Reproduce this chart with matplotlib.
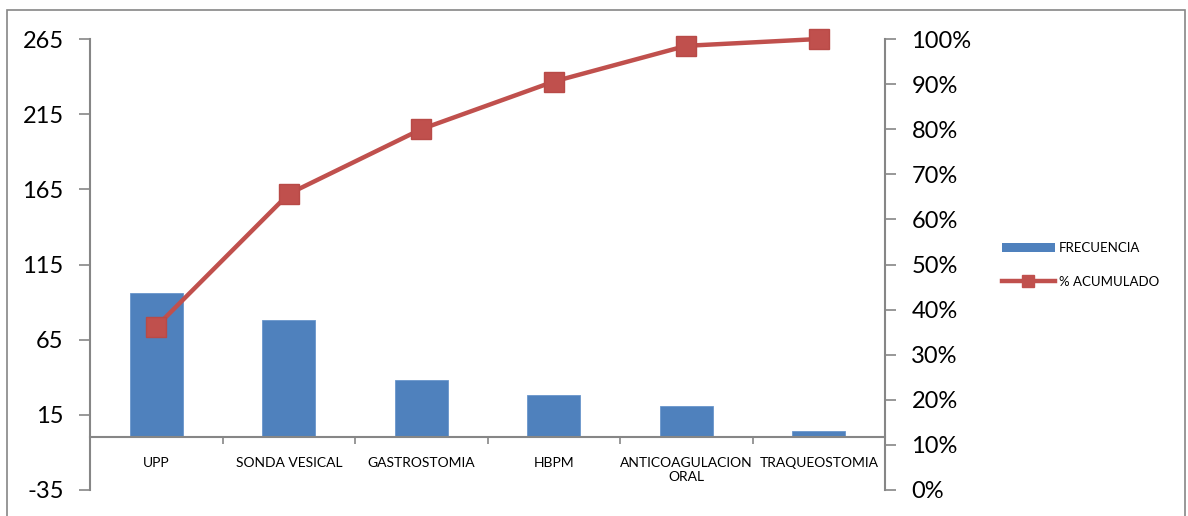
import numpy as np
import matplotlib
matplotlib.use("Agg")
import matplotlib.pyplot as plt
from matplotlib.patches import Rectangle, Patch
from matplotlib.lines import Line2D
from matplotlib.ticker import PercentFormatter

# Pareto de complicaciones
categorias = ["UPP", "SONDA VESICAL", "GASTROSTOMIA", "HBPM",
              "ANTICOAGULACION\nORAL", "TRAQUEOSTOMIA"]
frecuencia = [96, 78, 38, 28, 21, 4]
izq_ticks = [-35, 15, 65, 115, 165, 215, 265]
der_ticks = [0, 0.1, 0.2, 0.3, 0.4, 0.5, 0.6, 0.7, 0.8, 0.9, 1.0]

acumulado = np.cumsum(frecuencia) / np.sum(frecuencia)

azul = "#4F81BD"
rojo = "#C0504D"
gris = "#868686"

plt.rcParams['font.family'] = ['Lato', 'DejaVu Sans']
plt.rcParams['axes.unicode_minus'] = False

fig = plt.figure(figsize=(11.88, 5.16), dpi=100)
ax = fig.add_axes([90 / 1188, 1 - 490 / 516, 795 / 1188, 451 / 516])

x = np.arange(len(categorias))
ax.bar(x, frecuencia, width=0.4, color=azul, edgecolor="#6A96CC", linewidth=0.6, zorder=2)

ax.set_xlim(-0.5, len(categorias) - 0.5)
ax.set_ylim(izq_ticks[0], izq_ticks[-1])
ax.set_yticks(izq_ticks)
ax.tick_params(axis='y', labelsize=17, length=8, width=1.2, color=gris, pad=11)

ax.set_xticks(x)
ax.set_xticklabels(categorias, fontsize=9.5, linespacing=1.5)
ax.set_xticks(np.arange(0.5, len(categorias) - 0.5), minor=True)
ax.tick_params(axis='x', which='major', length=0, pad=14)
ax.tick_params(axis='x', which='minor', length=5, width=1.2, color=gris)

for s in ['top', 'right']:
    ax.spines[s].set_visible(False)
ax.spines['bottom'].set_position(('data', 0))
ax.spines['bottom'].set_color(gris)
ax.spines['bottom'].set_linewidth(1.5)
ax.spines['left'].set_color(gris)
ax.spines['left'].set_linewidth(1.5)

# eje secundario para el porcentaje acumulado
ax2 = ax.twinx()
ax2.plot(x, acumulado, color=rojo, linewidth=3.2, marker='s', markersize=14,
         markerfacecolor=rojo, markeredgecolor="#B84A47", zorder=3, clip_on=False)
ax2.set_ylim(0, 1)
ax2.set_yticks(der_ticks)
ax2.yaxis.set_major_formatter(PercentFormatter(1.0, decimals=0))
ax2.tick_params(axis='y', labelsize=17, length=8, width=1.2, color=gris, pad=11)
for s in ['top', 'left', 'bottom']:
    ax2.spines[s].set_visible(False)
ax2.spines['right'].set_color(gris)
ax2.spines['right'].set_linewidth(1.5)

handles = [Patch(facecolor=azul, edgecolor='none'),
           Line2D([0], [0], color=rojo, linewidth=3.2, marker='s', markersize=8)]
fig.legend(handles, ["FRECUENCIA", "% ACUMULADO"], loc='center left',
           bbox_to_anchor=(990 / 1188, 1 - 265 / 516), frameon=False,
           fontsize=9.5, handlelength=4.0, handleheight=0.7, handletextpad=0.3,
           labelspacing=1.6)

fig.patches.append(Rectangle((7 / 1188, -0.01), 1178 / 1188, 1 - 10 / 516 + 0.01,
                             transform=fig.transFigure, fill=False,
                             edgecolor=gris, linewidth=1.2))

fig.savefig("out.png", dpi=100)
